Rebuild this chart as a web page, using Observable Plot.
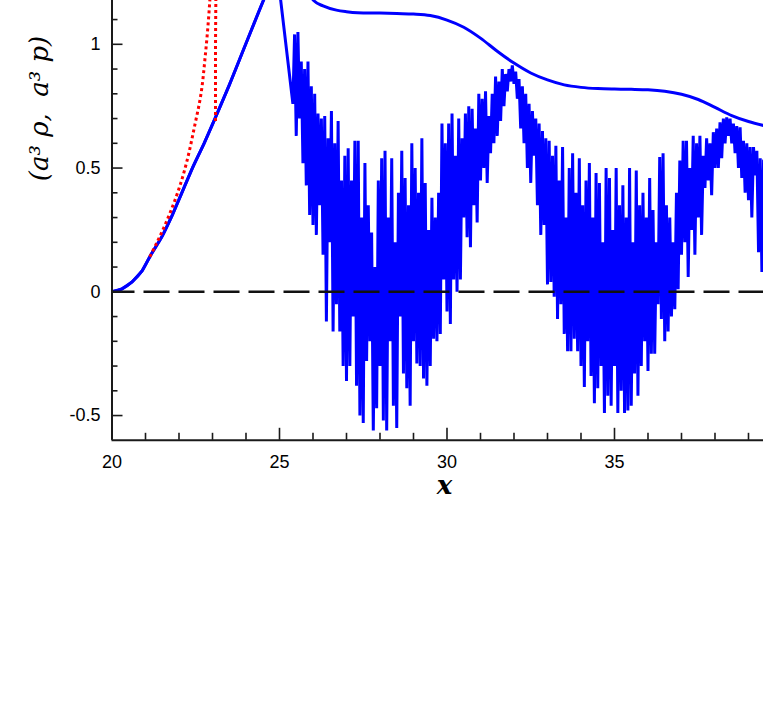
<!DOCTYPE html>
<html><head><meta charset="utf-8">
<script src="https://cdn.jsdelivr.net/npm/d3@7"></script>
<script src="https://cdn.jsdelivr.net/npm/@observablehq/plot@0.6"></script>
<style>html,body{margin:0;padding:0;background:#fff;overflow:hidden}</style>
</head><body><div id="chart"></div>
<script>
// ---- ticks ----
const xMajorTicks = [20, 25, 30, 35];
const xMajorLabels = ["20", "25", "30", "35"];
const xMinorTicks = [21,22,23,24,26,27,28,29,31,32,33,34,36,37,38,39];
const yMajorTicks = [-0.5, 0, 0.5, 1];
const yMajorLabels = ["-0.5", "0", "0.5", "1"];
const yMinorTicks = [-0.4,-0.3,-0.2,-0.1,0.1,0.2,0.3,0.4,0.6,0.7,0.8,0.9,1.1];

// ---- a^3 rho (smooth blue) ----
const densityX = [20,20.3,20.6,20.9,21.15,21.5,21.8,22.1,22.4,22.75,23.09,23.5,23.99,24.52,24.9,25.2,25.5,25.8,26.02,26.3,26.7,27.0,27.33,28.0,28.5,29.0,29.5,30.0,30.5,31.0,31.5,32.0,32.5,33.0,33.5,34.0,34.5,35.0,35.5,36.0,36.5,37.0,37.5,38.0,38.5,39.0,39.45];
const densityY = [0,0.012,0.04,0.085,0.147,0.225,0.31,0.405,0.5,0.6,0.705,0.835,1.0,1.177,1.29,1.33,1.30,1.22,1.177,1.155,1.138,1.132,1.128,1.126,1.124,1.122,1.116,1.098,1.069,1.025,0.972,0.924,0.884,0.856,0.836,0.826,0.821,0.819,0.818,0.816,0.81,0.798,0.777,0.745,0.712,0.688,0.672];

// ---- a^3 p (noisy blue) ----
const pressureX = [20,20.3,20.6,20.9,21.15,21.5,21.8,22.1,22.4,22.75,23.09,23.5,23.99,24.52,24.92,
25.40,25.45,25.50,25.55,25.60,25.65,25.70,25.75,25.80,25.85,
25.90,25.95,26.00,26.05,26.10,26.15,26.20,26.25,26.30,26.35,
26.40,26.45,26.50,26.55,26.60,26.65,26.70,26.75,26.80,26.85,
26.90,26.95,27.00,27.05,27.10,27.15,27.20,27.25,27.30,27.35,
27.40,27.45,27.50,27.55,27.60,27.65,27.70,27.75,27.80,27.85,
27.90,27.95,28.00,28.05,28.10,28.15,28.20,28.25,28.30,28.35,
28.40,28.45,28.50,28.55,28.60,28.65,28.70,28.75,28.80,28.85,
28.90,28.95,29.00,29.05,29.10,29.15,29.20,29.25,29.30,29.35,
29.40,29.45,29.50,29.55,29.60,29.65,29.70,29.75,29.80,29.85,
29.90,29.95,30.00,30.05,30.10,30.15,30.20,30.25,30.30,30.35,
30.40,30.45,30.50,30.55,30.60,30.65,30.70,30.75,30.80,30.85,
30.90,30.95,31.00,31.05,31.10,31.15,31.20,31.25,31.30,31.35,
31.40,31.45,31.50,31.55,31.60,31.65,31.70,31.75,31.80,31.85,
31.90,31.95,32.00,32.05,32.10,32.15,32.20,32.25,32.30,32.35,
32.40,32.45,32.50,32.55,32.60,32.65,32.70,32.75,32.80,32.85,
32.90,32.95,33.00,33.05,33.10,33.15,33.20,33.25,33.30,33.35,
33.40,33.45,33.50,33.55,33.60,33.65,33.70,33.75,33.80,33.85,
33.90,33.95,34.00,34.05,34.10,34.15,34.20,34.25,34.30,34.35,
34.40,34.45,34.50,34.55,34.60,34.65,34.70,34.75,34.80,34.85,
34.90,34.95,35.00,35.05,35.10,35.15,35.20,35.25,35.30,35.35,
35.40,35.45,35.50,35.55,35.60,35.65,35.70,35.75,35.80,35.85,
35.90,35.95,36.00,36.05,36.10,36.15,36.20,36.25,36.30,36.35,
36.40,36.45,36.50,36.55,36.60,36.65,36.70,36.75,36.80,36.85,
36.90,36.95,37.00,37.05,37.10,37.15,37.20,37.25,37.30,37.35,
37.40,37.45,37.50,37.55,37.60,37.65,37.70,37.75,37.80,37.85,
37.90,37.95,38.00,38.05,38.10,38.15,38.20,38.25,38.30,38.35,
38.40,38.45,38.50,38.55,38.60,38.65,38.70,38.75,38.80,38.85,
38.90,38.95,39.00,39.05,39.10,39.15,39.20,39.25,39.30,39.35,
39.40,39.45];
const pressureY = [0,0.012,0.04,0.085,0.147,0.225,0.31,0.405,0.5,0.6,0.705,0.835,1.0,1.177,1.31,
0.76,1.04,0.63,1.05,0.70,0.93,0.52,0.90,0.43,0.93,
0.31,0.83,0.27,0.80,0.23,0.72,0.35,0.70,0.15,0.71,
-0.12,0.62,0.20,0.73,-0.16,0.60,-0.05,0.69,-0.16,0.45,
-0.30,0.55,-0.36,0.58,-0.30,0.45,-0.10,0.61,-0.38,0.61,
-0.50,0.30,-0.53,0.52,-0.28,0.35,-0.20,0.24,-0.56,0.10,
-0.47,0.45,-0.30,0.54,-0.52,0.57,-0.56,0.30,-0.20,0.54,
-0.46,0.20,-0.55,0.40,-0.10,0.57,-0.33,0.46,-0.39,0.35,
-0.46,0.60,-0.20,0.50,-0.29,0.40,-0.30,0.62,-0.35,0.44,
-0.38,0.25,-0.30,0.38,-0.19,0.30,-0.20,0.40,-0.17,0.68,
0.05,0.60,-0.08,0.68,-0.13,0.72,0.05,0.55,0.00,0.70,
0.05,0.62,0.30,0.72,0.22,0.75,0.18,0.74,0.35,0.66,
0.28,0.80,0.45,0.78,0.50,0.81,0.44,0.71,0.56,0.80,
0.60,0.87,0.63,0.85,0.69,0.90,0.75,0.88,0.81,0.90,
0.85,0.915,0.84,0.89,0.78,0.86,0.66,0.83,0.60,0.80,
0.50,0.76,0.44,0.73,0.55,0.70,0.35,0.68,0.23,0.65,
0.27,0.62,0.03,0.61,0.04,0.55,-0.02,0.59,-0.11,0.45,
-0.05,0.585,-0.17,0.30,-0.24,0.50,-0.24,0.56,-0.19,0.40,
-0.24,0.54,-0.30,0.35,-0.385,0.45,-0.20,0.52,-0.34,0.30,
-0.45,0.48,-0.39,0.44,-0.30,0.20,-0.49,0.50,-0.42,0.46,
-0.46,0.25,-0.30,0.50,-0.49,0.35,-0.40,0.43,-0.49,0.30,
-0.48,0.50,-0.46,0.20,-0.33,0.49,-0.42,0.35,-0.30,0.40,
-0.20,0.30,-0.32,0.46,-0.25,0.33,-0.25,0.20,-0.05,0.545,
-0.11,0.56,-0.20,0.35,-0.16,0.30,-0.10,0.20,-0.07,0.40,
0.01,0.53,0.15,0.61,0.20,0.61,0.06,0.50,0.25,0.63,
0.15,0.60,0.30,0.63,0.23,0.55,0.42,0.62,0.45,0.60,
0.39,0.645,0.50,0.66,0.50,0.685,0.54,0.70,0.60,0.705,
0.63,0.70,0.60,0.68,0.56,0.67,0.50,0.665,0.46,0.61,
0.40,0.60,0.37,0.585,0.30,0.585,0.47,0.57,0.16,0.54,
0.08,0.53];

// ---- red dotted (two branches) ----
const redX = [21.15,21.5,21.84,22.1,22.24,22.47,22.64,22.79,22.92,23.0, 23.12,23.10,23.09,23.09];
const redY = [0.147,0.245,0.356,0.46,0.53,0.672,0.786,0.962,1.177,1.4, 1.4,1.177,0.95,0.69];
const redBranch = [1,1,1,1,1,1,1,1,1,1, 2,2,2,2];

const density = densityX.map((x, i) => ({x, y: densityY[i]}));
const pressure = pressureX.map((x, i) => ({x, y: pressureY[i]}));
const red = redX.map((x, i) => ({x, y: redY[i], b: redBranch[i]}));

const W = 763, H = 725;
const mL = 111.5, mR = 0, mT = 0, mB = 285.2;
const frameW = W - mL - mR, frameH = H - mT - mB;
const axisColor = "#1a1a1a";
const serif = "'DejaVu Serif', 'Liberation Serif', serif";

const chart = Plot.plot({
  width: W, height: H,
  marginLeft: mL, marginRight: mR, marginTop: mT, marginBottom: mB,
  style: {fontFamily: "'Liberation Sans', Arial, sans-serif", fontSize: "18px", color: "#000", background: "#fff", overflow: "visible"},
  x: {domain: [20, 39.448]},
  y: {domain: [-0.6, 1.177]},
  marks: [
    Plot.line(density, {x: "x", y: "y", stroke: "#0000ff", strokeWidth: 3, curve: "monotone-x", clip: true}),
    Plot.line(pressure, {x: "x", y: "y", stroke: "#0000ff", strokeWidth: 3, curve: "linear", strokeLinejoin: "miter", strokeMiterlimit: 3, clip: true}),
    Plot.line(red, {x: "x", y: "y", z: "b", stroke: "#ff0000", strokeWidth: 3, strokeDasharray: "0.01,6", strokeLinecap: "square", curve: "monotone-y", clip: true}),
    Plot.ruleY([0], {stroke: "#111", strokeWidth: 2.4, strokeDasharray: "26,9", strokeDashoffset: 3}),
    // axis lines
    Plot.ruleX([20], {stroke: axisColor, strokeWidth: 2}),
    Plot.ruleY([-0.6], {stroke: axisColor, strokeWidth: 2}),
    // inward ticks
    Plot.tickX(xMajorTicks, {x: d => d, insetTop: frameH - 12, stroke: axisColor, strokeWidth: 1.6}),
    Plot.tickX(xMinorTicks, {x: d => d, insetTop: frameH - 7, stroke: axisColor, strokeWidth: 1.6}),
    Plot.tickY(yMajorTicks, {y: d => d, insetRight: frameW - 11, stroke: axisColor, strokeWidth: 1.6}),
    Plot.tickY(yMinorTicks, {y: d => d, insetRight: frameW - 6, stroke: axisColor, strokeWidth: 1.6}),
    // tick labels
    Plot.axisX(xMajorTicks, {tickSize: 0, tickPadding: 15, fontSize: 18, label: null, tickFormat: d => xMajorLabels[xMajorTicks.indexOf(d)]}),
    Plot.axisY(yMajorTicks, {tickSize: 0, tickPadding: 11.5, fontSize: 18, label: null, tickFormat: d => yMajorLabels[yMajorTicks.indexOf(d)]}),
    // axis titles
    Plot.text(["x"], {frameAnchor: "bottom-left", dx: 332.5, dy: 45, fontFamily: serif, fontStyle: "italic", fontWeight: "bold", fontSize: 26, textAnchor: "middle", lineAnchor: "middle", fill: "#000"}),
    Plot.text(["(a³ ρ,  a³ p)"], {frameAnchor: "top-left", dx: -72, dy: 108, rotate: -90, fontFamily: serif, fontStyle: "italic", fontSize: 26, textAnchor: "middle", lineAnchor: "middle", fill: "#000"})
  ]
});
document.getElementById("chart").appendChild(chart);
</script>
</body></html>
